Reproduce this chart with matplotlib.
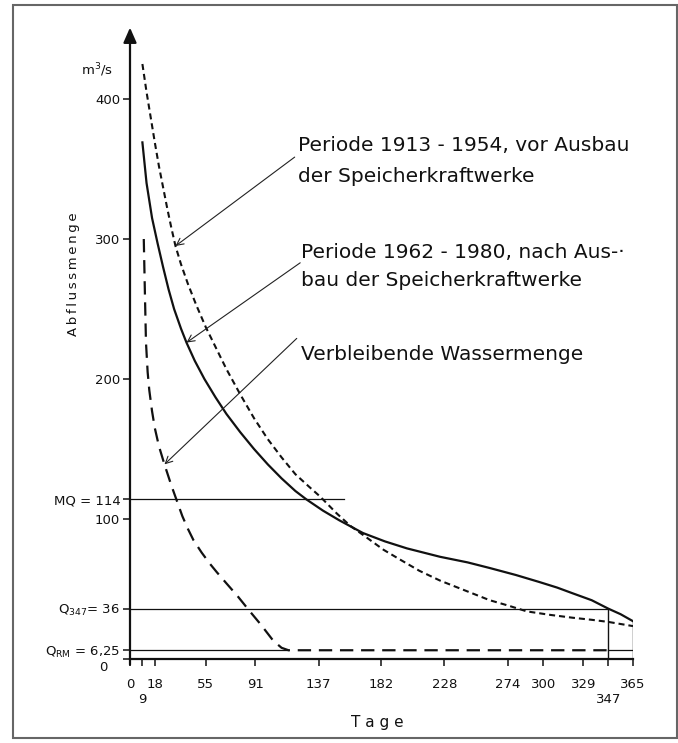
import matplotlib
matplotlib.use('Agg')
import matplotlib.pyplot as plt
from matplotlib.patches import Rectangle
import numpy as np

plt.rcParams['font.family'] = ['DejaVu Sans']
plt.rcParams['mathtext.default'] = 'regular'

# ---- data ----
days_pre = [9, 12, 15, 18, 21, 24, 27, 30, 33, 37, 42, 48, 55, 62, 70, 80, 90, 100, 110, 120,
            130, 138, 150, 160, 170, 184, 196, 210, 225, 243, 261, 275, 288, 305, 321, 335, 347, 365]
q_pre = [425, 405, 387, 369, 352, 337, 322, 308, 295, 282, 268, 253, 237, 223, 207, 189, 172, 157, 144, 132,
         123, 116, 104, 95, 88, 78, 71, 63, 56, 49, 42, 38, 34, 31.5, 29.5, 28, 26.5, 23.5]

days_post = [9, 12, 16, 20, 24, 28, 32, 37, 41, 47, 54, 62, 70, 80, 90, 100, 110, 120, 128, 140,
             152, 169, 185, 201, 225, 245, 261, 280, 297, 310, 321, 335, 347, 356, 365]
q_post = [369, 340, 315, 297, 280, 264, 250, 236, 226, 213, 200, 187, 175, 162, 150, 139, 129, 120, 114, 106,
          99, 90, 84, 79, 73, 69, 65, 60, 55, 51, 47, 42, 36, 32, 27]

days_rest = [10, 10.8, 11.6, 12.8, 14, 16, 18, 21, 25, 30, 34, 38, 42, 46, 52, 58, 63, 70, 78, 87,
             95, 104, 110, 115, 347]
q_rest = [300, 262, 226, 205, 192, 177, 165, 152, 139, 124, 113, 102, 93, 85, 76, 68, 62, 54, 45, 34,
          24.5, 13, 8, 6.25, 6.25]

x_ticks = [0, 9, 18, 55, 91, 137, 182, 228, 274, 300, 329, 347, 365]
x_ticklabels = ['0', '\n9', '18', '55', '91', '137', '182', '228', '274', '300', '329', '\n347', '365']

y_ticks = [0, 6.25, 36, 100, 114, 200, 300, 400]
y_ticklabels = ['', '$Q_{RM}$ = 6,25', '$Q_{347}$= 36', '100', 'MQ = 114', '200', '300', '400']

MQ = 114
Q347 = 36
QRM = 6.25
D347 = 347
D365 = 365

label_pre = 'Periode 1913 - 1954, vor Ausbau\nder Speicherkraftwerke'
label_post = 'Periode 1962 - 1980, nach Aus-·\nbau der Speicherkraftwerke'
label_rest = 'Verbleibende Wassermenge'

INK = '#111111'

# ---- figure ----
W, H = 678, 743
fig = plt.figure(figsize=(W / 100, H / 100), dpi=100)
ax = fig.add_axes([130 / W, 1 - 659 / H, 503 / W, 452 * 1.4 / H])
ax.set_xlim(0, 365)
ax.set_ylim(0, 452)

for s in ['top', 'right', 'left']:
    ax.spines[s].set_visible(False)
ax.spines['bottom'].set_linewidth(1.6)
ax.spines['bottom'].set_color(INK)

ax.set_xticks(x_ticks, x_ticklabels)
ax.set_yticks(y_ticks, y_ticklabels)
ax.tick_params(axis='x', direction='out', length=5, width=1.1, pad=9,
               labelsize=9.5, colors=INK)
ax.tick_params(axis='y', direction='out', length=5, width=1.1, pad=2,
               labelsize=9.5, colors=INK)
for lab in ax.get_xticklabels():
    lab.set_verticalalignment('top')
    lab.set_linespacing(1.2)

# "0" label on the y axis, just below the x axis
ax.annotate('0', xy=(0, 0), xytext=(-27, -2), textcoords='offset pixels',
            ha='center', va='top', fontsize=9.5, color=INK, annotation_clip=False)

# y axis with arrow
ax.annotate('', xy=(0, 451), xytext=(0, -4), xycoords='data',
            arrowprops=dict(arrowstyle='-|>,head_length=0.75,head_width=0.33',
                            lw=1.6, color=INK, shrinkA=0, shrinkB=0,
                            mutation_scale=12), annotation_clip=False)

# reference lines
ax.plot([0, 155], [MQ, MQ], color=INK, lw=0.9)
ax.plot([0, D347], [Q347, Q347], color=INK, lw=0.9)
ax.plot([0, 115], [QRM, QRM], color=INK, lw=0.9)
ax.plot([D347, D365], [QRM, QRM], color=INK, lw=0.9)
ax.plot([D347, D347], [0, np.interp(D347, days_post, q_post)], color=INK, lw=1.0)
ax.plot([D365, D365], [0, np.interp(D365, days_post, q_post)], color=INK, lw=1.0)

# curves
ax.plot(days_pre, q_pre, color=INK, lw=1.5, dashes=(2.9, 1.9), solid_joinstyle='round')
ax.plot(days_post, q_post, color=INK, lw=1.6, solid_joinstyle='round')
ax.plot(days_rest, q_rest, color=INK, lw=1.6, dashes=(6.0, 3.5), dash_joinstyle='round')

# annotations
def arrow(tip_day, days, vals, tx, ty):
    ax.annotate('', xy=(tip_day, np.interp(tip_day, days, vals)), xytext=(tx, ty),
                arrowprops=dict(arrowstyle='->,head_length=0.5,head_width=0.25', lw=0.8,
                                color='#222222', shrinkA=0, shrinkB=0, mutation_scale=10))

arrow(33, days_pre, q_pre, 119.5, 358.5)
arrow(41, days_post, q_post, 123.5, 283)
arrow(25, days_rest, q_rest, 121, 229)

fig.text(298 / W, 1 - 161 / H, label_pre, fontsize=14.5, ha='left', va='center',
         linespacing=1.75, color=INK)
fig.text(301 / W, 1 - 267 / H, label_post, fontsize=14.5, ha='left', va='center',
         linespacing=1.6, color=INK)
fig.text(301 / W, 1 - 354 / H, label_rest, fontsize=14.5, ha='left', va='center',
         color=INK)

fig.text(97 / W, 1 - 70 / H, 'm$^3$/s', fontsize=9.5, ha='center', va='center', color=INK)
fig.text(74 / W, 1 - 274 / H, '\u2009'.join('Abflussmenge'), fontsize=9.5, rotation=90,
         ha='center', va='center', color=INK)
fig.text(377 / W, 1 - 722 / H, 'T a g e', fontsize=11, ha='center', va='center', color=INK)

# outer frame
fig.patches.append(Rectangle((13 / W, 1 - 738 / H), 664 / W, 733 / H, transform=fig.transFigure,
                             fill=False, ec='#666666', lw=1.5))

fig.savefig('out.png', dpi=100)
